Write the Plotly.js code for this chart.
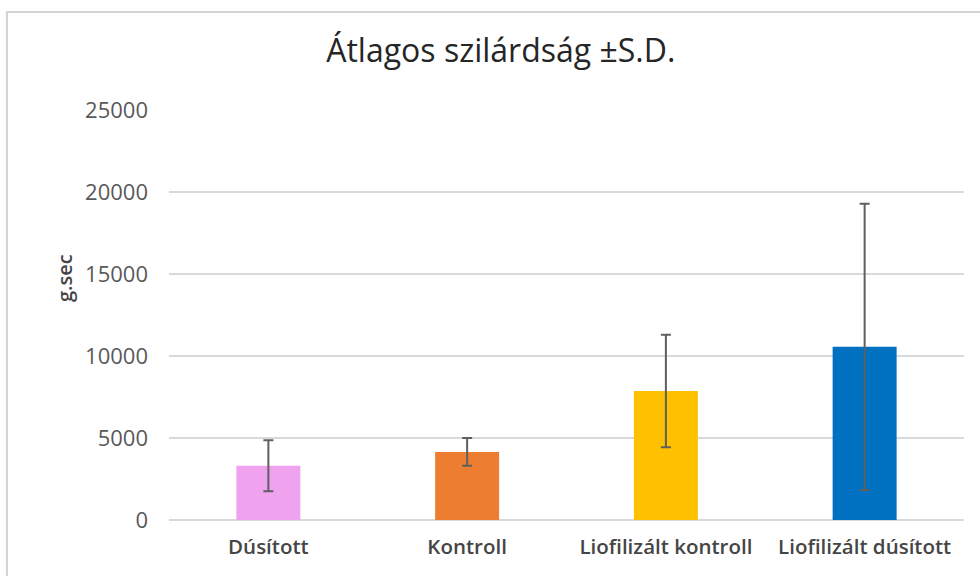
<!DOCTYPE html>
<html>
<head>
<meta charset="utf-8">
<script src="https://cdn.plot.ly/plotly-3.0.1.min.js"></script>
<style>
  html, body { margin: 0; padding: 0; background: #ffffff; }
  #wrap { position: relative; width: 980px; height: 576px; overflow: hidden; }
  #chart { position: absolute; left: 0; top: 0; width: 980px; height: 576px; }
  #frame { position: absolute; left: 6px; top: 11px; width: 1010px; height: 620px;
           border: 2px solid #d4d4d4; box-shadow: 0 1px 2px rgba(0,0,0,0.08);
           pointer-events: none; z-index: 5; }
</style>
</head>
<body>
<div id="wrap">
  <div id="chart"></div>
  <div id="frame"></div>
</div>
<script>
// ---- data ----
const categories = ["Dúsított", "Kontroll", "Liofilizált kontroll", "Liofilizált dúsított"];
const meanValues = [3310, 4150, 7860, 10560];
const sdValues = [1560, 845, 3430, 8730];
const barColors = ["#EFA3EF", "#ED7D31", "#FFC000", "#0070C0"];
const yTickValues = [0, 5000, 10000, 15000, 20000, 25000];
const yTickLabels = ["0", "5000", "10000", "15000", "20000", "25000"];
const chartTitle = "Átlagos szilárdság ±S.D.";
const yTitle = "g.sec";

const trace = {
  type: "bar",
  x: categories,
  y: meanValues,
  marker: { color: barColors, line: { width: 0 } },
  error_y: { type: "data", array: sdValues, visible: true, color: "#5f5f5f", thickness: 2, width: 5 },
  hoverinfo: "x+y"
};

const layout = {
  width: 980,
  height: 576,
  margin: { l: 169, r: 16, t: 110, b: 56 },
  paper_bgcolor: "#ffffff",
  plot_bgcolor: "#ffffff",
  showlegend: false,
  bargap: 0.678,
  font: { family: "Open Sans, sans-serif", color: "#595959" },
  title: {
    text: chartTitle,
    font: { family: "Open Sans, sans-serif", size: 32, color: "#262626" },
    xref: "container", x: 0.511, xanchor: "center",
    yref: "container", y: 1 - 51 / 576, yanchor: "middle"
  },
  xaxis: {
    type: "category",
    showgrid: false,
    zeroline: false,
    showline: false,
    ticks: "",
    ticklabelstandoff: 12,
    tickfont: { family: "Open Sans, sans-serif", size: 20.5, color: "#454545", weight: 600 }
  },
  yaxis: {
    range: [0, 25000],
    tickmode: "array",
    tickvals: yTickValues,
    ticktext: yTickLabels,
    showgrid: true,
    gridcolor: "#d9d9d9",
    gridwidth: 1.5,
    zeroline: true,
    zerolinecolor: "#d9d9d9",
    zerolinewidth: 1.5,
    showline: false,
    ticks: "",
    ticklabelstandoff: 20,
    tickfont: { family: "Open Sans, sans-serif", size: 22, color: "#595959" }
  },
  annotations: [{
    text: yTitle,
    xref: "paper", yref: "paper",
    x: (64 - 169) / 795, y: (520 - 278) / 410,
    xanchor: "center", yanchor: "middle",
    textangle: -90,
    showarrow: false,
    font: { family: "Open Sans, sans-serif", size: 20, color: "#454545", weight: 600 }
  }]
};

Plotly.newPlot("chart", [trace], layout, { displayModeBar: false, staticPlot: true });
</script>
</body>
</html>
